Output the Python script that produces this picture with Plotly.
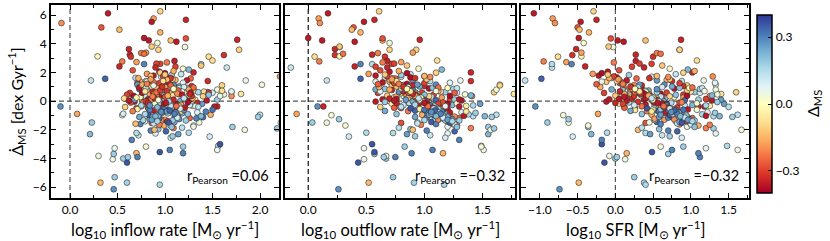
import plotly.graph_objects as go

# ---------------- data (one entry per galaxy, shared by the three panels) ----------------
d_ms = [
    6.12, 5.76, 6.26, 5.67, 5.53, 5.44, 5.14, 4.98, 4.79, 4.40,
    4.23, 4.05, 4.23, 4.14, 4.37, 3.77, 4.28, 3.58, 3.21, 3.10,
    2.83, 3.63, 3.24, 3.10, 3.12, 3.80, 3.58, 3.35, 3.38, 3.30,
    2.77, 2.42, 1.44, 1.56, 1.44, 1.14, 1.72, 2.34, 2.58, 2.72,
    2.58, 2.80, 2.60, 2.00, 0.62, 0.80, 0.50, 1.10, 1.40, 0.35,
    -6.14, -5.68, -5.30, -5.68, -5.82, -4.28, -4.05, -4.00, -3.82, -3.68,
    -3.63, -3.90, -3.90, -3.55, -3.63, -3.28, -3.17, -3.12, -3.00, -3.40,
    -3.40, -2.30, -1.49, -0.89, -0.37, -1.80, -2.00, -0.95, -1.10, -1.90,
    -1.50, -2.47, -1.70, -2.70, -2.20, -1.26, -0.98, -0.37, -2.25, -3.17,
    0.42, -0.85, 1.35, -1.62, 0.08, 2.15, -0.31, 0.96, -2.05, 0.63,
    -0.12, 1.78, -1.18, 0.27, -0.66, 2.48, 0.85, -1.40, 0.15, -0.48,
    1.12, -0.22, 0.58, -1.95, 1.62, -0.75, 0.33, 2.26, -1.05, 0.02,
    -0.58, 0.74, -2.38, 1.05, -0.09, 0.47, -1.30, 1.90, -0.41, 0.88,
    0.21, -1.52, 1.44, -0.17, 0.66, -0.92, 2.62, -0.03, 1.21, -1.78,
    -0.36, 0.52, -1.12, 1.70, 0.11, -0.64, 0.93, -2.22, 0.38, 1.48,
    -0.78, 0.18, 1.02, -1.45, 0.57, -0.27, 2.05, -0.95, 0.29, -1.88,
    1.30, -0.14, 0.71, -0.55, 1.88, -1.25, 0.05, 0.82, -2.55, 0.45,
    -0.05, 1.58, -0.82, 0.36, -1.60, 1.15, -0.44, 2.35, -1.08, 0.62,
    0.92, -0.70, 0.13, -1.35, 1.40, -0.19, 0.55, -2.00, 1.07, -0.52,
    0.25, -1.15, 1.65, -0.33, 0.78, -0.88, 2.20, 0.00, -1.70, 0.68,
    -0.25, 1.25, -0.62, 0.40, -1.48, 0.98, -0.10, 1.82, -0.97, 0.15,
    0.60, -1.02, 0.31, -2.30, 1.52, -0.46, 0.83, -1.20, 2.70, -0.15,
    -0.68, 0.48, -1.58, 1.10, 0.07, -0.38, 1.36, -0.80, 0.22, -1.32,
    1.68, -0.28, 0.64, -1.05, 0.37, 2.40, -0.56, 0.95, -1.85, 0.19,
    -0.45, 0.85, -0.13, 1.45, -1.22, 0.28, -0.73, 1.98, -0.20, 0.72,
    0.10, -1.40, 1.18, -0.60, 0.50, -2.10, 0.90, -0.08, 1.60, -0.90,
    -1.00, 0.34, -0.30, 2.10, -0.50, 0.68, -1.65, 1.28, 0.03, -0.35,
    0.80, -0.18, 1.95, -1.10, 0.44, -0.72, 1.15, -0.40, 0.58, -2.45,
    0.12, -0.60, 0.98, -1.28, 1.75, -0.06, 0.36, -0.95, 0.70, -1.55,
    0.55, -0.42, 1.05, -0.95, 0.18, 0.82, -1.25, 0.30, -0.15, 1.32,
    -0.70, 0.40, -0.02, 1.50, -1.05, 0.66, -0.33, 0.95, -1.45, 0.12,
    0.74, -0.55, 0.22, -1.20, 1.15, -0.08, 0.48, -0.85, 1.72, -0.28,
    -0.12, 0.90, -0.62, 0.35, -1.62, 1.02, -0.40, 0.60, -0.90, 0.05,
    1.25, -0.22, 0.52, -1.10, 0.15, -0.48, 0.78, -1.35, 0.28, 1.60,
    -0.80, 0.20, -0.05, 1.10, -0.60, 0.42, -1.00, 0.70, -0.25, 0.95,
    0.32, -1.50, 0.88, -0.38, 0.10, 1.40, -0.72, 0.58, -1.15, -0.10,
    1.85, -0.30, 0.45, -0.78, 0.25, -1.80, 0.62, -0.45, 1.08, -0.02,
    -0.52, 0.76, -1.30, 0.38, -0.18, 1.20, -0.88, 0.08, 0.50, -1.05,
    0.68, -0.35, 1.00, -0.65, 0.20, -1.40, 1.52, -0.12, 0.85, -0.75,
]

delta_ms = [
    -0.36, -0.18, -0.10, -0.34, -0.36, -0.20, -0.27, -0.14, -0.15, -0.36,
    -0.36, 0.02, -0.13, -0.36, -0.28, 0.04, -0.34, -0.10, -0.32, -0.08,
    -0.08, -0.34, -0.34, -0.32, -0.02, -0.12, -0.10, -0.22, -0.18, -0.24,
    -0.22, -0.34, 0.12, 0.34, 0.06, 0.04, -0.20, 0.12, 0.15, -0.18,
    0.30, -0.35, -0.30, -0.34, -0.10, 0.04, -0.06, -0.10, -0.33, -0.20,
    0.28, -0.14, 0.18, 0.17, 0.16, 0.36, 0.05, 0.18, 0.04, 0.18,
    -0.15, 0.30, 0.18, 0.36, 0.30, 0.06, 0.18, 0.15, 0.36, 0.05,
    0.30, 0.22, 0.18, -0.17, 0.28, 0.18, 0.04, 0.14, 0.18, 0.18,
    0.04, 0.10, 0.03, 0.30, 0.15, 0.18, 0.03, -0.34, 0.08, 0.03,
    -0.35, 0.22, -0.12, -0.20, -0.05, -0.28, 0.12, -0.38, 0.30, 0.18,
    0.15, -0.36, -0.26, -0.08, 0.34, -0.12, 0.20, 0.08, -0.30, -0.28,
    -0.20, -0.36, 0.10, 0.20, 0.14, -0.24, -0.15, 0.02, 0.14, -0.10,
    -0.36, 0.22, 0.12, -0.33, 0.16, 0.04, -0.18, -0.18, -0.10, -0.37,
    0.20, -0.28, 0.26, -0.02, -0.08, 0.16, -0.30, -0.36, -0.38, 0.06,
    -0.24, -0.37, 0.32, 0.10, 0.18, -0.35, 0.20, 0.15, -0.12, -0.14,
    0.08, -0.34, 0.24, 0.35, -0.30, 0.22, -0.36, -0.16, -0.26, -0.22,
    -0.36, 0.14, -0.12, -0.04, 0.12, 0.20, -0.36, 0.24, 0.10, -0.30,
    -0.32, -0.25, 0.18, 0.06, 0.30, 0.28, -0.30, -0.34, -0.20, 0.16,
    0.00, -0.22, -0.36, 0.18, 0.14, 0.26, -0.10, -0.14, -0.10, 0.12,
    -0.18, 0.30, -0.38, -0.04, -0.34, 0.10, 0.22, 0.24, -0.16, 0.08,
    0.16, -0.30, -0.06, 0.22, 0.04, -0.16, -0.28, 0.18, 0.36, -0.36,
    -0.30, -0.36, 0.12, 0.26, -0.12, -0.26, 0.28, 0.30, -0.22, 0.02,
    0.24, -0.20, -0.14, -0.34, 0.33, -0.36, 0.06, -0.36, -0.14, 0.16,
    -0.20, 0.10, 0.28, 0.22, -0.38, -0.30, -0.22, -0.24, 0.14, -0.08,
    0.20, 0.16, -0.34, -0.36, -0.18, 0.00, 0.30, -0.10, -0.38, -0.08,
    0.26, -0.30, -0.26, 0.02, -0.16, 0.34, 0.12, -0.22, -0.32, 0.20,
    -0.28, -0.10, 0.16, -0.16, 0.36, -0.34, -0.22, 0.08, -0.36, 0.06,
    -0.16, -0.30, -0.38, 0.25, 0.20, -0.06, 0.26, 0.14, -0.26, 0.18,
    -0.36, 0.32, 0.10, -0.20, -0.14, 0.18, -0.32, 0.26, 0.04, 0.12,
    -0.12, 0.22, -0.34, 0.15, -0.02, -0.18, 0.28, -0.36, 0.08, -0.24,
    0.30, -0.08, -0.30, -0.14, 0.20, 0.04, 0.12, -0.36, 0.24, -0.20,
    -0.26, 0.18, 0.02, 0.34, -0.16, -0.38, -0.06, 0.14, -0.30, 0.22,
    -0.34, -0.04, 0.26, -0.22, 0.10, -0.12, 0.32, -0.36, 0.16, 0.06,
    -0.30, 0.12, -0.20, 0.24, -0.36, 0.00, -0.10, 0.18, -0.28, -0.16,
    0.22, -0.36, 0.10, -0.26, 0.30, -0.06, 0.20, -0.32, -0.18, 0.14,
    -0.22, 0.36, -0.14, 0.08, -0.34, -0.08, 0.26, -0.38, 0.10, 0.18,
    -0.12, 0.28, -0.36, 0.12, -0.02, 0.20, -0.24, -0.36, 0.06, 0.16,
    0.10, -0.30, 0.26, -0.16, -0.36, -0.22, 0.30, 0.02, -0.34, 0.22,
    -0.06, -0.24, -0.32, 0.34, 0.12, 0.16, -0.18, -0.36, 0.00, 0.28,
]

log_inflow = [
    0.40, 0.88, 0.95, 1.22, 0.86, -0.09, 0.33, 0.52, 0.95, 0.78,
    0.83, 0.92, 1.06, 1.12, 1.22, 1.21, 1.76, 1.78, 1.62, 1.46,
    1.50, 0.62, 0.63, 0.64, 0.29, 0.86, 0.93, 0.75, 0.80, 0.78,
    0.55, 0.52, 0.22, 0.37, 1.85, 2.02, 2.21, 1.65, 1.38, 0.70,
    0.78, 1.10, 0.95, 1.30, 1.70, 1.55, 1.80, 1.60, 1.45, 1.70,
    0.46, 0.32, 0.47, 0.60, 0.945, 0.60, 0.45, 0.56, 0.30, 0.46,
    0.70, 0.71, 0.61, 0.945, 1.19, 0.47, 1.19, 1.56, 1.58, 1.55,
    1.05, 0.21, 0.23, 0.075, -0.10, 1.71, 1.84, 2.00, 1.98, 2.18,
    2.22, 1.47, 1.30, 0.65, 1.25, 0.95, 0.55, 1.55, 0.90, 0.80,
    0.92, 1.18, 0.74, 1.05, 1.32, 0.66, 0.98, 1.12, 0.85, 1.45,
    1.02, 0.88, 1.26, 0.61, 0.95, 1.38, 1.08, 0.79, 1.21, 0.70,
    0.83, 1.14, 1.50, 0.93, 0.69, 1.03, 0.87, 1.19, 1.36, 0.76,
    1.10, 0.97, 0.72, 1.28, 0.90, 1.62, 1.00, 0.81, 0.58, 1.16,
    1.24, 0.86, 1.07, 0.79, 1.41, 1.13, 0.91, 0.68, 0.99, 1.30,
    0.75, 1.06, 1.40, 0.96, 1.55, 0.88, 1.23, 0.70, 1.01, 1.11,
    1.34, 0.82, 1.15, 1.02, 0.63, 1.20, 0.94, 1.48, 0.78, 1.09,
    1.04, 0.93, 1.31, 0.71, 1.17, 0.84, 1.44, 0.99, 1.06, 0.60,
    0.86, 1.27, 0.97, 1.58, 0.74, 1.09, 0.82, 0.90, 1.12, 1.35,
    1.19, 0.66, 0.95, 1.22, 0.80, 1.39, 1.05, 0.89, 0.72, 1.00,
    0.78, 1.10, 1.02, 1.29, 0.93, 0.56, 1.25, 1.16, 0.99, 1.70,
    1.13, 0.71, 1.05, 0.87, 1.36, 1.00, 0.64, 1.07, 0.83, 1.27,
    1.46, 0.92, 0.80, 1.14, 1.08, 0.97, 0.73, 1.33, 1.02, 0.89,
    0.95, 1.15, 0.69, 0.88, 1.21, 1.52, 0.81, 1.04, 1.29, 0.77,
    0.99, 1.26, 0.86, 1.38, 0.67, 1.11, 0.93, 1.30, 1.18, 0.57,
    1.07, 0.81, 1.34, 1.23, 0.91, 0.74, 1.43, 0.95, 1.12, 1.60,
    0.68, 1.03, 0.96, 1.18, 0.84, 1.01, 1.15, 0.77, 1.06, 1.24,
    0.90, 1.40, 0.75, 1.09, 1.13, 0.87, 0.94, 1.19, 0.62, 1.32,
    1.25, 0.98, 1.00, 0.73, 1.46, 1.17, 0.71, 1.35, 0.90, 1.08,
    0.82, 1.50, 1.20, 0.96, 0.85, 1.04, 1.28, 1.13, 0.76, 0.88,
    1.05, 0.92, 0.84, 1.12, 1.00, 0.78, 1.15, 0.95, 1.22, 0.88,
    0.97, 1.08, 0.80, 1.02, 0.90, 1.18, 1.06, 0.73, 1.10, 0.86,
    1.14, 0.83, 1.01, 0.94, 0.76, 1.24, 0.89, 1.03, 0.98, 1.16,
    0.82, 1.09, 1.20, 0.91, 1.04, 0.85, 0.99, 1.27, 0.79, 1.07,
    0.94, 1.01, 1.13, 0.87, 0.96, 1.19, 0.81, 1.08, 1.00, 0.72,
    1.11, 0.89, 0.98, 1.06, 0.84, 1.25, 0.93, 1.02, 1.17, 0.80,
    0.87, 1.04, 0.92, 1.15, 1.09, 0.98, 1.02, 0.76, 1.13, 0.95,
    1.00, 0.84, 1.18, 0.96, 0.70, 1.07, 0.91, 1.21, 0.88, 1.04,
    1.16, 0.95, 0.86, 1.03, 0.99, 0.81, 1.10, 0.93, 1.26, 0.90,
    0.79, 1.12, 0.97, 1.05, 1.20, 0.92, 0.85, 1.01, 1.09, 0.96,
]

log_outflow = [
    0.17, 0.09, 0.61, 0.57, 0.48, 0.10, 0.39, 0.375, 0.45, 0.00,
    0.12, 0.70, 0.64, 0.40, 0.64, 0.27, 0.96, 0.93, 0.23, 0.055,
    1.11, 0.23, 0.55, 0.66, 0.27, 0.27, 0.70, 0.60, 0.90, 0.30,
    0.095, 0.40, 0.16, 0.45, 1.31, 1.65, 1.00, -0.15, 0.55, 0.80,
    0.45, 0.68, 0.72, 1.40, 1.60, 1.62, 1.77, 1.65, 1.40, 1.41,
    0.26, 0.52, 0.73, 0.91, 1.17, 0.43, 0.48, 0.67, 0.67, 0.57,
    1.16, 0.75, 0.65, 0.57, 0.89, 0.48, 0.83, 1.49, 0.55, 1.51,
    1.07, 1.55, 0.035, -0.10, 0.08, 1.55, 1.57, 1.62, 1.58, 1.60,
    0.16, 0.35, 0.32, 1.30, 0.50, 0.265, 0.20, 0.13, 1.20, 1.49,
    0.88, 1.12, 0.70, 1.25, 0.97, 0.62, 1.05, 0.79, 1.02, 1.18,
    1.10, 0.58, 1.30, 0.74, 0.92, 0.85, 0.66, 1.08, 1.22, 0.80,
    0.82, 0.95, 1.28, 0.88, 0.66, 1.15, 0.76, 0.95, 1.42, 0.69,
    1.20, 0.90, 1.05, 1.00, 0.86, 1.35, 1.12, 0.52, 0.62, 1.04,
    1.02, 0.80, 0.90, 0.72, 1.14, 1.38, 0.74, 0.58, 0.85, 1.20,
    0.78, 0.93, 1.16, 0.80, 1.26, 1.00, 1.07, 0.73, 0.68, 1.02,
    1.32, 0.70, 0.96, 1.06, 0.60, 1.24, 0.70, 0.98, 0.90, 1.40,
    0.64, 0.87, 1.12, 0.96, 0.88, 1.22, 1.32, 0.58, 1.18, 1.08,
    1.00, 0.75, 1.44, 0.82, 1.10, 1.10, 1.16, 0.68, 1.26, 0.92,
    1.20, 0.86, 0.64, 1.30, 1.05, 1.48, 0.80, 0.90, 0.72, 1.06,
    1.15, 1.02, 0.88, 1.36, 0.72, 1.20, 1.15, 0.90, 1.28, 0.62,
    0.92, 1.00, 1.10, 1.40, 0.94, 0.61, 1.16, 0.80, 1.08, 0.76,
    0.98, 1.34, 1.06, 0.85, 1.02, 0.74, 0.90, 1.16, 0.64, 1.28,
    0.66, 0.84, 1.26, 0.90, 1.10, 1.30, 0.58, 1.22, 0.86, 1.00,
    1.05, 0.82, 0.78, 1.52, 1.22, 0.58, 1.04, 1.12, 0.78, 0.95,
    1.08, 1.25, 0.76, 0.72, 1.18, 0.98, 1.02, 1.10, 1.20, 0.88,
    0.84, 1.20, 0.60, 1.14, 0.94, 1.26, 1.28, 1.04, 0.92, 0.76,
    1.10, 1.04, 1.42, 0.78, 0.88, 0.82, 0.97, 1.22, 0.74, 1.18,
    0.70, 1.12, 0.85, 0.92, 1.00, 1.36, 0.94, 0.80, 1.26, 0.92,
    1.30, 1.00, 0.86, 1.12, 1.00, 0.66, 0.92, 1.04, 1.10, 0.94,
    0.92, 1.10, 0.80, 1.18, 0.98, 0.86, 1.24, 0.95, 1.04, 0.74,
    1.15, 0.90, 1.02, 0.70, 1.20, 0.88, 1.08, 0.82, 1.22, 0.97,
    0.86, 1.12, 0.94, 1.16, 0.78, 1.00, 0.90, 1.06, 0.68, 1.04,
    1.00, 0.80, 1.10, 0.93, 1.26, 0.76, 1.05, 0.87, 1.14, 0.96,
    0.74, 1.02, 0.90, 1.20, 0.95, 1.08, 0.84, 1.18, 0.92, 0.72,
    1.12, 0.96, 1.00, 0.80, 1.06, 0.89, 1.16, 0.85, 1.03, 0.82,
    0.94, 1.22, 0.84, 1.04, 0.99, 0.76, 1.10, 0.88, 1.16, 1.01,
    0.66, 1.05, 0.92, 1.12, 0.97, 1.28, 0.86, 1.07, 0.80, 0.99,
    1.08, 0.85, 1.20, 0.92, 1.02, 0.78, 1.14, 0.96, 0.90, 1.10,
    0.88, 1.03, 0.82, 1.09, 0.95, 1.24, 0.72, 1.00, 0.85, 1.06,
]

log_sfr = [
    -1.08, -0.83, -0.29, -0.25, -0.46, -0.80, -0.50, -0.475, -0.35, -0.485,
    0.03, -0.42, 0.40, 0.11, -0.06, -0.03, 0.87, 0.85, -0.57, -0.76,
    1.08, -0.52, 0.27, 0.50, -0.45, -0.09, 0.85, 0.55, -0.45, 0.60,
    -0.95, -0.40, -1.195, -0.98, 1.17, 1.33, 1.29, -0.84, -0.84, -0.65,
    -0.58, 0.27, 0.48, 1.02, 1.60, 1.33, 1.40, 0.95, 0.75, 1.25,
    -0.74, -0.485, 0.25, 0.38, 0.40, -0.145, 0.13, 0.00, -0.08, 0.70,
    0.15, 1.12, 0.02, 0.485, 1.10, 1.20, 0.90, 1.48, -0.18, 1.62,
    0.75, -0.32, -0.90, -0.23, -1.06, -0.36, 1.67, 1.62, 1.55, 1.30,
    -0.62, -0.565, -0.36, -0.18, -0.11, -0.62, -0.69, 1.10, 1.33, 0.60,
    0.15, 0.62, -0.12, 0.85, 0.48, 0.05, 0.92, 0.30, 0.70, 1.05,
    0.74, -0.22, 1.02, 0.38, 0.55, 0.62, 0.10, 0.80, 1.20, 0.26,
    0.25, 0.40, 1.12, 0.58, -0.05, 0.88, 0.08, 0.72, 1.30, 0.02,
    0.96, 0.44, 0.62, 0.90, 0.18, 1.35, 0.65, -0.30, 0.12, 0.78,
    0.66, 0.40, 0.55, 0.05, 1.00, 1.15, 0.32, -0.12, 0.14, 0.95,
    0.35, 0.60, 0.75, 0.48, 1.10, 0.68, 0.85, 0.40, 0.00, 0.68,
    1.22, 0.22, 0.75, 0.55, -0.15, 1.02, -0.10, 0.48, 0.62, 1.20,
    0.08, 0.58, 0.95, 0.50, 0.80, 0.98, 1.28, -0.05, 0.88, 0.90,
    0.30, 0.28, 1.32, 0.45, 0.60, 0.65, 0.82, 0.38, 0.95, 0.55,
    0.98, 0.42, -0.08, 1.05, 0.88, 1.44, 0.20, 0.30, 0.16, 0.70,
    0.90, 0.70, 0.02, 1.25, 0.36, 0.92, 0.96, 0.64, 1.10, 0.20,
    0.52, 0.85, 0.26, 1.28, 0.45, -0.20, 0.85, 0.18, 0.72, 0.05,
    0.68, 1.20, 0.60, 0.46, 0.72, 0.12, 0.55, 0.88, -0.02, 1.08,
    0.20, 0.45, 1.00, 0.35, 0.92, 1.18, -0.18, 0.66, 0.50, 0.52,
    0.70, 0.25, 0.32, 1.38, 0.95, 0.22, 0.78, 1.02, 0.35, 0.40,
    0.60, 1.12, 0.00, 0.15, 0.52, 0.78, 0.58, 0.90, 0.68, 0.40,
    1.40, 0.95, -0.25, 1.08, 0.12, 0.82, 1.15, 0.88, 0.45, 0.35,
    0.85, 0.72, 1.20, 1.05, 0.42, 0.06, 1.25, 1.32, 0.15, 0.62,
    0.20, 0.10, -0.18, 0.58, 0.80, 0.48, 0.32, 1.50, 0.28, 0.72,
    0.38, 0.90, 0.62, 0.78, 0.55, 1.35, 0.25, 0.60, 1.18, 0.82,
    0.42, 0.70, 0.18, 0.82, 0.55, 0.30, 0.88, 0.12, 0.62, 0.08,
    0.78, 0.35, 0.50, 0.05, 0.92, 0.40, 0.66, 0.22, 0.85, 0.48,
    0.28, 0.60, 0.44, 0.95, 0.10, 0.58, 0.36, 0.74, -0.02, 0.68,
    0.52, 0.20, 0.80, 0.46, 1.00, 0.16, 0.64, 0.32, 0.76, 0.56,
    0.06, 0.62, 0.38, 0.90, 0.50, 0.72, 0.26, 0.98, 0.45, -0.08,
    0.84, 0.40, 0.58, 0.14, 0.70, 0.34, 0.94, 0.24, 0.60, 0.30,
    0.48, 0.88, 0.22, 0.66, 0.54, 0.02, 0.80, 0.36, 0.92, 0.60,
    -0.10, 0.68, 0.40, 0.74, 0.50, 1.05, 0.26, 0.70, 0.18, 0.58,
    0.72, 0.28, 0.96, 0.44, 0.62, 0.10, 0.82, 0.50, 0.34, 0.86,
    0.32, 0.64, 0.20, 0.78, 0.48, 1.02, 0.04, 0.56, 0.26, 0.74,
]

x_titles = ["log<sub>10</sub> inflow rate [M<sub>⊙</sub> yr<sup>−1</sup>]",
            "log<sub>10</sub> outflow rate [M<sub>⊙</sub> yr<sup>−1</sup>]",
            "log<sub>10</sub> SFR [M<sub>⊙</sub> yr<sup>−1</sup>]"]
r_pearson = ["0.06", "−0.32", "−0.32"]
x_ranges = [[-0.2, 2.2], [-0.2, 1.78], [-1.25, 1.77]]
y_range = [-6.75, 6.7]
c_range = [-0.4, 0.4]
cbar_ticks = [-0.3, 0.0, 0.3]
cbar_ticktext = ["−0.3", "0.0", "0.3"]

# ---------------- figure ----------------
W, H = 830, 241
FONT = "Lato"
panels = [(51, 279), (285, 515), (521, 749)]
y_top, y_bot = 5, 198
xs_data = [log_inflow, log_outflow, log_sfr]
vline_colors = ["#555", "#111", "#555"]

fig = go.Figure()
for i in range(3):
    ax = "" if i == 0 else str(i + 1)
    fig.add_trace(go.Scatter(
        x=xs_data[i], y=d_ms, mode="markers", xaxis="x" + ax, yaxis="y" + ax,
        marker=dict(size=5.8, color=delta_ms, colorscale="RdYlBu",
                    cmin=c_range[0], cmax=c_range[1],
                    line=dict(color="#2a2a2a", width=0.6),
                    showscale=(i == 2),
                    colorbar=dict(x=757 / W, xanchor="left", xpad=0, ypad=0,
                                  y=1 - 104 / H, yanchor="middle",
                                  len=178, lenmode="pixels", thickness=15,
                                  outlinewidth=1.5, outlinecolor="black",
                                  tickvals=cbar_ticks, ticktext=cbar_ticktext,
                                  ticks="inside", ticklen=4, tickcolor="black",
                                  tickfont=dict(family=FONT, size=12, color="black"))),
        showlegend=False, hoverinfo="skip"))

for i in range(3):
    ax = "" if i == 0 else str(i + 1)
    l, r = panels[i]
    common = dict(showline=True, linewidth=2, linecolor="black", mirror="allticks",
                  ticks="inside", ticklen=5, tickcolor="black", tickwidth=1,
                  showgrid=False, zeroline=False,
                  tickfont=dict(family=FONT, size=12, color="black"))
    fig.layout["xaxis" + ax] = dict(
        domain=[l / W, r / W], anchor="y" + ax, range=x_ranges[i],
        tick0=0, dtick=0.5, tickformat=".1f",
        minor=dict(dtick=0.25, tick0=0, ticks="inside", ticklen=3, tickcolor="black"),
        **common)
    fig.layout["yaxis" + ax] = dict(
        domain=[1 - y_bot / H, 1 - y_top / H], anchor="x" + ax, range=y_range,
        tick0=0, dtick=2, showticklabels=(i == 0),
        minor=dict(dtick=1, tick0=0, ticks="inside", ticklen=3, tickcolor="black"),
        **common)
    fig.add_shape(type="line", xref="x" + ax + " domain", yref="y" + ax, x0=0, x1=1, y0=0, y1=0,
                  line=dict(color="#555", width=1.2, dash="5px,3px"), layer="below")
    fig.add_shape(type="line", xref="x" + ax, yref="y" + ax + " domain", x0=0, x1=0, y0=0, y1=1,
                  line=dict(color=vline_colors[i], width=1.2, dash="5px,3px"), layer="below")
    fig.add_annotation(x=(r - 8) / W, y=1 - 176 / H, xref="paper", yref="paper",
                       xanchor="right", yanchor="middle", showarrow=False,
                       text="r<sub>Pearson</sub> =" + r_pearson[i],
                       font=dict(family=FONT, size=14.5, color="black"))
    fig.add_annotation(x=(l + r) / 2 / W, y=1 - 229 / H, xref="paper", yref="paper",
                       xanchor="center", yanchor="middle", showarrow=False,
                       text=x_titles[i], font=dict(family=FONT, size=16.5, color="black"))

fig.layout.yaxis.title = dict(text="Δ̇<sub>MS</sub> [dex Gyr<sup>−1</sup>]",
                              font=dict(family=FONT, size=16, color="black"), standoff=5)
fig.add_annotation(x=813 / W, y=1 - 104 / H, xref="paper", yref="paper", textangle=-90,
                   xanchor="center", yanchor="middle",
                   showarrow=False, text="Δ<sub>MS</sub>",
                   font=dict(family=FONT, size=16, color="black"))

fig.update_layout(width=W, height=H, margin=dict(l=0, r=0, t=0, b=0),
                  paper_bgcolor="white", plot_bgcolor="white")
fig.write_html("out.html", config={"displayModeBar": False},
               post_script="document.body.style.margin='0px';document.body.style.padding='0px';")
